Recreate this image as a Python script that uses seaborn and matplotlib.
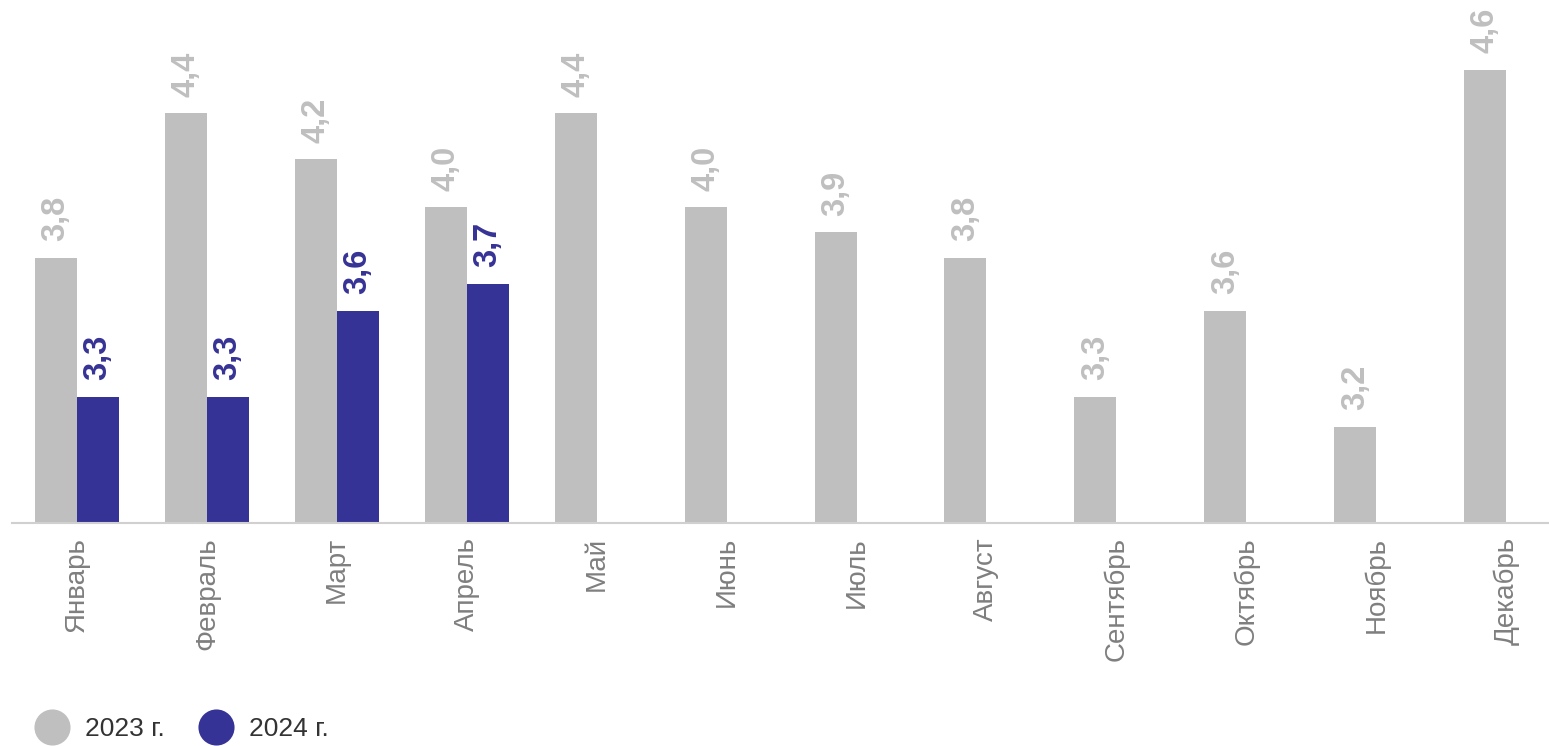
import matplotlib
matplotlib.use("Agg")
import matplotlib.pyplot as plt
from matplotlib.lines import Line2D
from matplotlib.ticker import NullLocator
import seaborn as sns
import pandas as pd
import numpy as np

months = ["Январь", "Февраль", "Март", "Апрель", "Май", "Июнь", "Июль",
          "Август", "Сентябрь", "Октябрь", "Ноябрь", "Декабрь"]
values_2023 = [3.8, 4.4, 4.2, 4.0, 4.4, 4.0, 3.9, 3.8, 3.3, 3.6, 3.2, 4.6]
values_2024 = [3.3, 3.3, 3.6, 3.7]
series = ["2023 г.", "2024 г."]
colors = {"2023 г.": "#BFBFBF", "2024 г.": "#363396"}

rows = []
for m, v in zip(months, values_2023):
    rows.append({"month": m, "year": series[0], "value": v})
for m, v in zip(months, values_2024):
    rows.append({"month": m, "year": series[1], "value": v})
df = pd.DataFrame(rows)

sns.set_theme(style="white")
plt.rcParams["font.family"] = ["Liberation Sans", "DejaVu Sans"]

fig = plt.figure(figsize=(15.49, 7.46), dpi=100)
ax = fig.add_axes([12 / 1549, 1 - 523 / 746, 1 - 12 / 1549, 523 / 746])

sns.barplot(data=df, x="month", y="value", hue="year", order=months,
            hue_order=series, palette=colors, width=0.646, gap=0,
            dodge=True, saturation=1, legend=False, ax=ax, errorbar=None,
            log_scale=(False, True))

ax.set_yscale("log")
ax.set_ylim(2.902, 4.938)
ax.set_xlim(-0.5, 11.33)
ax.yaxis.set_major_locator(NullLocator())
ax.yaxis.set_minor_locator(NullLocator())

label_colors = ["#BFBFBF", "#363396"]
for c, col in zip(ax.containers, label_colors):
    labs = [f"{v:.1f}".replace(".", ",") for v in c.datavalues]
    ax.bar_label(c, labels=labs, rotation=90, padding=12, color=col,
                 fontsize=23.5, fontweight="bold")

for b in ax.patches:
    b.set_edgecolor("none")

ax.set_xlabel("")
ax.set_ylabel("")
ax.tick_params(axis="x", length=0, pad=10, labelsize=20, labelcolor="#7F7F7F")
for t in ax.get_xticklabels():
    t.set_rotation(90)
for s in ["top", "right", "left"]:
    ax.spines[s].set_visible(False)
ax.spines["bottom"].set_color("#D0D0D0")
ax.spines["bottom"].set_linewidth(1.5)

handles = [Line2D([], [], linestyle="none", marker="o", markersize=26,
                  markerfacecolor=colors[s], markeredgecolor="none") for s in series]
fig.legend(handles, series, loc="center left", bbox_to_anchor=(32 / 1549, 1 - 729 / 746),
           ncol=2, frameon=False, fontsize=19, handlelength=1.5, handletextpad=0.5,
           columnspacing=1.2, borderpad=0, borderaxespad=0, labelcolor="#333333")

fig.savefig("out.png", dpi=100)
